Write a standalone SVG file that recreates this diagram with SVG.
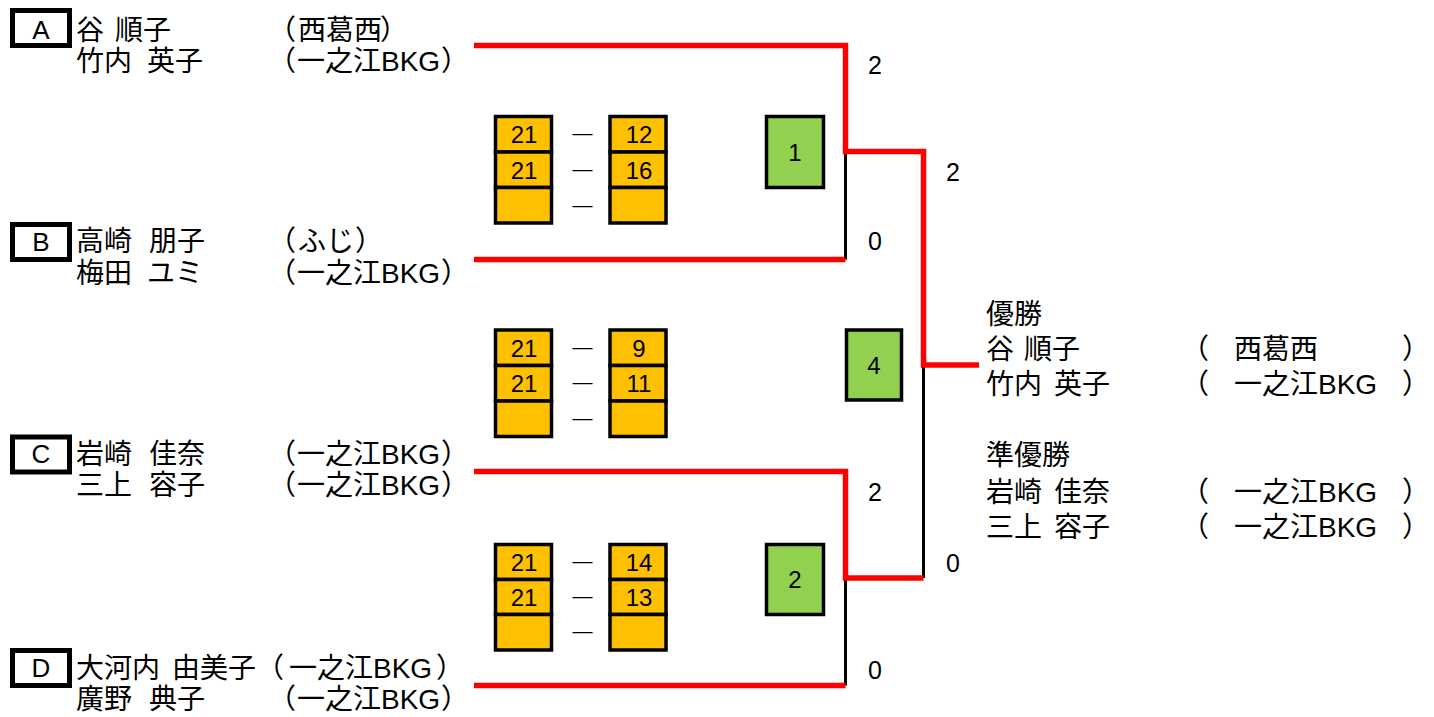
<svg xmlns="http://www.w3.org/2000/svg" width="1434" height="717" viewBox="0 0 1434 717">
<style>
.jp{font-family:"Liberation Sans","Noto Sans CJK JP",sans-serif;font-size:28px;fill:#000}
.lbl{font-family:"Liberation Sans",sans-serif;font-size:26px;text-anchor:middle;fill:#000}
.num{font-family:"Liberation Sans",sans-serif;font-size:25px;text-anchor:middle;fill:#000}
.sc{font-family:"Liberation Sans",sans-serif;font-size:24px;text-anchor:middle;fill:#000}
.dash{font-family:"Liberation Sans",sans-serif;font-size:20px;text-anchor:middle;fill:#000}
.cell{fill:#FFC000;stroke:#000;stroke-width:3.5}
.win{fill:#92D050;stroke:#000;stroke-width:3.5}
.box{fill:#fff;stroke:#000;stroke-width:5}
.red{fill:none;stroke:#FF0000;stroke-width:5.5;stroke-linejoin:miter}
.blk{fill:none;stroke:#000;stroke-width:3}
</style>
<rect width="1434" height="717" fill="#fff"/>
<g id="connectors">
<path class="blk" d="M845.5,151.5 V259.5"/>
<path class="blk" d="M923.5,365 V578"/>
<path class="blk" d="M845.5,578 V685.5"/>
<path class="red" d="M474,45.5 H845.5 V151.5 H923.5 V365 H979"/>
<path class="red" d="M474,259.5 H845.5"/>
<path class="red" d="M474,471.5 H845.5 V578 H923.5"/>
<path class="red" d="M474,685.5 H845.5"/>
<text class="num" x="875" y="74">2</text>
<text class="num" x="875" y="250">0</text>
<text class="num" x="953" y="181">2</text>
<text class="num" x="875" y="501">2</text>
<text class="num" x="875" y="679">0</text>
<text class="num" x="953" y="572">0</text>
</g>
<g id="entryA">
<rect class="box" x="12.5" y="10.5" width="57" height="35"/>
<text class="lbl" x="41" y="39">A</text>
<text class="jp" y="40"><tspan x="76">谷</tspan><tspan x="115">順子</tspan><tspan x="268">（</tspan><tspan x="298">西葛西</tspan><tspan x="380">）</tspan></text>
<text class="jp" y="71"><tspan x="76">竹内</tspan><tspan x="147">英子</tspan><tspan x="268">（</tspan><tspan x="297">一之江BKG</tspan><tspan x="441">）</tspan></text>
</g>
<g id="entryB">
<rect class="box" x="12.5" y="224.5" width="57" height="35"/>
<text class="lbl" x="41" y="251">B</text>
<text class="jp" y="251"><tspan x="76">高崎</tspan><tspan x="149">朋子</tspan><tspan x="268">（</tspan><tspan x="298">ふじ</tspan><tspan x="355">）</tspan></text>
<text class="jp" y="283"><tspan x="76">梅田</tspan><tspan x="147">ユミ</tspan><tspan x="268">（</tspan><tspan x="297">一之江BKG</tspan><tspan x="441">）</tspan></text>
</g>
<g id="entryC">
<rect class="box" x="12.5" y="437" width="57" height="35"/>
<text class="lbl" x="41" y="463">C</text>
<text class="jp" y="464"><tspan x="76">岩崎</tspan><tspan x="149">佳奈</tspan><tspan x="268">（</tspan><tspan x="297">一之江BKG</tspan><tspan x="441">）</tspan></text>
<text class="jp" y="495"><tspan x="76">三上</tspan><tspan x="149">容子</tspan><tspan x="268">（</tspan><tspan x="297">一之江BKG</tspan><tspan x="441">）</tspan></text>
</g>
<g id="entryD">
<rect class="box" x="12.5" y="650.5" width="57" height="35"/>
<text class="lbl" x="41" y="677">D</text>
<text class="jp" y="678"><tspan x="76">大河内</tspan><tspan x="172">由美子</tspan><tspan x="256">（</tspan><tspan x="289">一之江BKG</tspan><tspan x="436">）</tspan></text>
<text class="jp" y="709"><tspan x="76">廣野</tspan><tspan x="149">典子</tspan><tspan x="268">（</tspan><tspan x="297">一之江BKG</tspan><tspan x="441">）</tspan></text>
</g>
<g id="score1">
<rect class="cell" x="495.5" y="116.5" width="56" height="35.5"/>
<rect class="cell" x="495.5" y="152" width="56" height="35.5"/>
<rect class="cell" x="495.5" y="187.5" width="56" height="35.5"/>
<rect class="cell" x="610" y="116.5" width="56" height="35.5"/>
<rect class="cell" x="610" y="152" width="56" height="35.5"/>
<rect class="cell" x="610" y="187.5" width="56" height="35.5"/>
<text class="sc" x="524" y="143">21</text>
<text class="sc" x="524" y="178.5">21</text>
<text class="sc" x="639" y="143">12</text>
<text class="sc" x="639" y="178.5">16</text>
<text class="dash" x="582.5" y="140">—</text>
<text class="dash" x="582.5" y="176">—</text>
<text class="dash" x="582.5" y="211.5">—</text>
</g>
<g id="score2">
<rect class="cell" x="495.5" y="330" width="56" height="35.5"/>
<rect class="cell" x="495.5" y="365.5" width="56" height="35.5"/>
<rect class="cell" x="495.5" y="401" width="56" height="35.5"/>
<rect class="cell" x="610" y="330" width="56" height="35.5"/>
<rect class="cell" x="610" y="365.5" width="56" height="35.5"/>
<rect class="cell" x="610" y="401" width="56" height="35.5"/>
<text class="sc" x="524" y="356.5">21</text>
<text class="sc" x="524" y="392">21</text>
<text class="sc" x="639" y="356.5">9</text>
<text class="sc" x="639" y="392">11</text>
<text class="dash" x="582.5" y="353.5">—</text>
<text class="dash" x="582.5" y="389">—</text>
<text class="dash" x="582.5" y="424.5">—</text>
</g>
<g id="score3">
<rect class="cell" x="495.5" y="544.5" width="56" height="35"/>
<rect class="cell" x="495.5" y="579.5" width="56" height="35"/>
<rect class="cell" x="495.5" y="614.5" width="56" height="35.5"/>
<rect class="cell" x="610" y="544.5" width="56" height="35"/>
<rect class="cell" x="610" y="579.5" width="56" height="35"/>
<rect class="cell" x="610" y="614.5" width="56" height="35.5"/>
<text class="sc" x="524" y="570.5">21</text>
<text class="sc" x="524" y="605.5">21</text>
<text class="sc" x="639" y="570.5">14</text>
<text class="sc" x="639" y="605.5">13</text>
<text class="dash" x="582.5" y="567.5">—</text>
<text class="dash" x="582.5" y="602.5">—</text>
<text class="dash" x="582.5" y="638">—</text>
</g>
<g id="match1">
<rect class="win" x="766.5" y="116.5" width="57" height="71"/>
<text class="sc" x="795" y="161">1</text>
</g>
<g id="match2">
<rect class="win" x="766.5" y="544.5" width="57" height="70"/>
<text class="sc" x="795" y="588">2</text>
</g>
<g id="match4">
<rect class="win" x="846.5" y="330" width="55" height="70"/>
<text class="sc" x="874" y="374">4</text>
</g>
<g id="results">
<text class="jp" x="986" y="324">優勝</text>
<text class="jp" y="359"><tspan x="986">谷</tspan><tspan x="1024">順子</tspan><tspan x="1181">（</tspan><tspan x="1234">西葛西</tspan><tspan x="1402">）</tspan></text>
<text class="jp" y="394"><tspan x="986">竹内</tspan><tspan x="1054">英子</tspan><tspan x="1181">（</tspan><tspan x="1234">一之江BKG</tspan><tspan x="1402">）</tspan></text>
<text class="jp" x="986" y="465">準優勝</text>
<text class="jp" y="502"><tspan x="986">岩崎</tspan><tspan x="1054">佳奈</tspan><tspan x="1181">（</tspan><tspan x="1234">一之江BKG</tspan><tspan x="1402">）</tspan></text>
<text class="jp" y="537"><tspan x="986">三上</tspan><tspan x="1054">容子</tspan><tspan x="1181">（</tspan><tspan x="1234">一之江BKG</tspan><tspan x="1402">）</tspan></text>
</g>
</svg>
